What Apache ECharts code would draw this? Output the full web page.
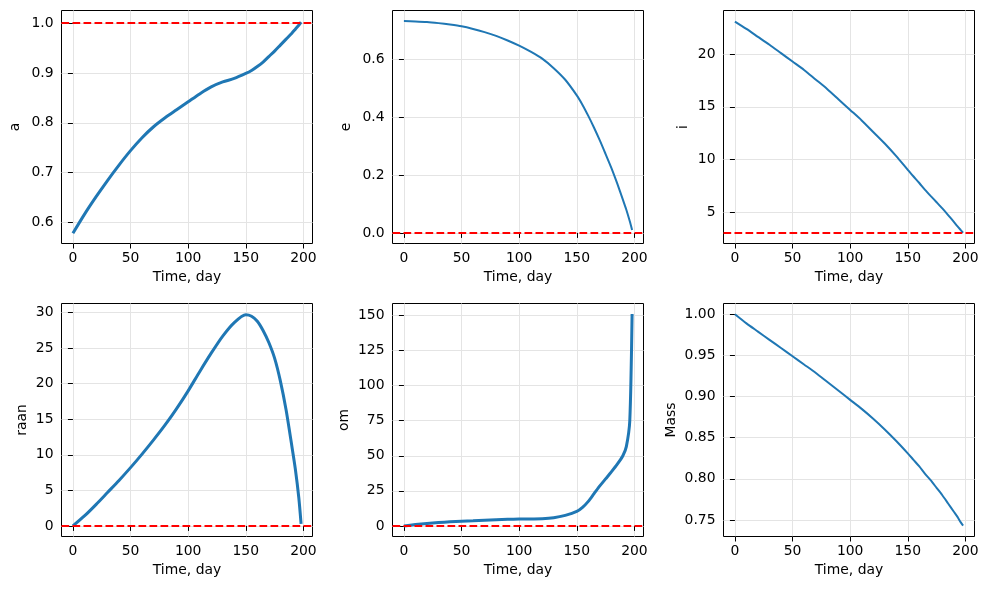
<!DOCTYPE html>
<html>
<head>
<meta charset="utf-8">
<script src="https://cdn.jsdelivr.net/npm/echarts@6/dist/echarts.min.js"></script>
<style>
html,body{margin:0;padding:0;background:#fff;}
#c{width:989px;height:590px;}
</style>
</head>
<body>
<div id="c"></div>
<script>
// ---- data ----
const time = [0,10,20,30,40,50,60,70,80,90,100,110,120,130,140,150,155,160,165,170,175,180,185,190,193,196,198];
const aVals = [0.578,0.616,0.651,0.684,0.715,0.744,0.770,0.792,0.810,0.826,0.842,0.858,0.872,0.882,0.889,0.899,0.905,0.913,0.922,0.933,0.944,0.956,0.968,0.980,0.988,0.996,1.002];
const eVals = [0.733,0.732,0.730,0.726,0.721,0.715,0.706,0.695,0.682,0.666,0.648,0.627,0.603,0.570,0.530,0.476,0.443,0.405,0.364,0.320,0.273,0.225,0.172,0.115,0.080,0.040,0.010];
const iVals = [23.1,22.4,21.65,20.9,20.1,19.3,18.5,17.6,16.7,15.7,14.7,13.7,12.6,11.5,10.3,9.0,8.37,7.75,7.1,6.5,5.92,5.33,4.7,4.05,3.65,3.27,3.02];
const raanVals = [0,1.4,3.0,4.7,6.4,8.2,10.1,12.1,14.2,16.5,19.0,21.7,24.3,26.7,28.6,29.7,29.5,28.8,27.5,25.8,23.6,20.4,16.3,11.2,8.0,4.0,0.3];
const omVals = [0,1.0,1.8,2.4,2.9,3.3,3.7,4.1,4.4,4.7,4.9,5.0,5.1,5.8,7.5,10.3,13.2,17.5,23.0,28.5,33.5,38.5,43.8,50.0,56.5,75,151];
const massVals = [1.000,0.989,0.979,0.969,0.959,0.949,0.939,0.929,0.918,0.907,0.896,0.885,0.873,0.860,0.846,0.831,0.823,0.815,0.806,0.798,0.789,0.780,0.770,0.760,0.754,0.747,0.743];

// targets (red dashed lines)
const aTarget = 1.0, eTarget = 0.0, iTarget = 3.0, raanTarget = 0.0, omTarget = 0.0;

// tick labels
const xTicks = [0,50,100,150,200];
const aTicks = [0.6,0.7,0.8,0.9,1.0];
const eTicks = [0.0,0.2,0.4,0.6];
const iTicks = [5,10,15,20];
const raanTicks = [0,5,10,15,20,25,30];
const omTicks = [0,25,50,75,100,125,150];
const massTicks = [0.75,0.80,0.85,0.90,0.95,1.00];

const xLabel = 'Time, day';
const yNames = ['a','e','i','raan','om','Mass'];

// ---- chart ----
const FONT = 'DejaVu Sans';
const FS = 13.9;
const panels = [
  {vals:aVals, ticks:aTicks, dec:1, min:0.5575, max:1.0255, target:aTarget, lw:3, gap:39},
  {vals:eVals, ticks:eTicks, dec:1, min:-0.0367, max:0.7697, target:eTarget, lw:2, gap:39},
  {vals:iVals, ticks:iTicks, dec:0, min:1.995, max:24.155, target:iTarget, lw:2, gap:33},
  {vals:raanVals, ticks:raanTicks, dec:0, min:-1.49, max:31.29, target:raanTarget, lw:3, gap:32},
  {vals:omVals, ticks:omTicks, dec:0, min:-7.55, max:158.55, target:omTarget, lw:3, gap:41},
  {vals:massVals, ticks:massTicks, dec:2, min:0.72985, max:1.01315, target:null, lw:2, gap:45}
];
const lefts = [61.5, 392.5, 723.5];
const tops = [10.5, 303.5];
const W = 251, H = 233;

const grids = [], xAxes = [], yAxes = [], series = [];
panels.forEach((p, k) => {
  const col = k % 3, row = Math.floor(k / 3);
  grids.push({left: lefts[col], top: tops[row], width: W, height: H,
    show: true, borderColor: '#000', borderWidth: 1, backgroundColor: 'transparent', containLabel: false});
  xAxes.push({
    type: 'value', gridIndex: k, min: -9.9, max: 207.9,
    name: xLabel, nameLocation: 'middle', nameGap: 27,
    nameTextStyle: {fontFamily: FONT, fontSize: FS, color: '#000'},
    axisLine: {show: false},
    axisTick: {show: true, length: 5, lineStyle: {color: '#000', width: 1}, customValues: xTicks},
    axisLabel: {show: true, margin: 8, fontFamily: FONT, fontSize: FS, color: '#000', customValues: xTicks,
      formatter: v => String(Math.round(v))},
    splitLine: {show: true, lineStyle: {color: '#e4e4e4', width: 1}}
  });
  yAxes.push({
    type: 'value', gridIndex: k, min: p.min, max: p.max,
    name: yNames[k], nameLocation: 'middle', nameGap: p.gap, nameRotate: 90,
    nameTextStyle: {fontFamily: FONT, fontSize: FS, color: '#000'},
    axisLine: {show: false},
    axisTick: {show: true, length: 5, lineStyle: {color: '#000', width: 1}, customValues: p.ticks},
    axisLabel: {show: true, margin: 8, fontFamily: FONT, fontSize: FS, color: '#000', customValues: p.ticks,
      formatter: v => v.toFixed(p.dec)},
    splitLine: {show: true, lineStyle: {color: '#e4e4e4', width: 1}}
  });
  const s = {
    type: 'line', xAxisIndex: k, yAxisIndex: k,
    data: time.map((t, j) => [t, p.vals[j]]),
    showSymbol: false, symbol: 'none', smooth: 0.25,
    lineStyle: {color: '#1f77b4', width: p.lw},
    itemStyle: {color: '#1f77b4'},
    z: 3
  };
  if (p.target !== null) {
    s.markLine = {
      silent: true, symbol: ['none', 'none'], label: {show: false},
      lineStyle: {color: '#ff0000', type: [7.7, 3.3], width: 2},
      data: [{yAxis: p.target}], animation: false
    };
  }
  series.push(s);
});

const chart = echarts.init(document.getElementById('c'), null, {renderer: 'canvas'});
chart.setOption({
  animation: false,
  backgroundColor: '#fff',
  grid: grids, xAxis: xAxes, yAxis: yAxes, series: series
});
</script>
</body>
</html>
